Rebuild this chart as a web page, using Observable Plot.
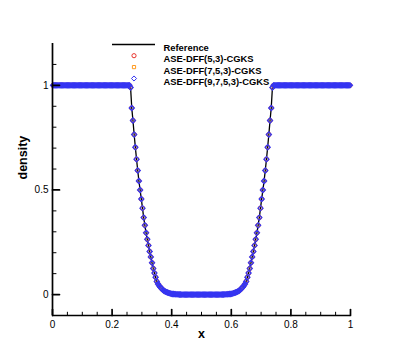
<!DOCTYPE html>
<html>
<head>
<meta charset="utf-8">
<script src="https://cdn.jsdelivr.net/npm/d3@7"></script>
<script src="https://cdn.jsdelivr.net/npm/@observablehq/plot@0.6"></script>
<style>
  html, body { margin: 0; padding: 0; background: #fff; }
  #chart svg { display: block; }
</style>
</head>
<body>
<div id="chart"></div>
<script>
// ---- data ----
const xGrid = [
  0.002,0.006,0.010,0.014,0.018,0.022,0.026,0.030,0.034,0.038,
  0.042,0.046,0.050,0.054,0.058,0.062,0.066,0.070,0.074,0.078,
  0.082,0.086,0.090,0.094,0.098,0.102,0.106,0.110,0.114,0.118,
  0.122,0.126,0.130,0.134,0.138,0.142,0.146,0.150,0.154,0.158,
  0.162,0.166,0.170,0.174,0.178,0.182,0.186,0.190,0.194,0.198,
  0.202,0.206,0.210,0.214,0.218,0.222,0.226,0.230,0.234,0.238,
  0.242,0.246,0.250,0.254,0.258,0.262,0.266,0.270,0.274,0.278,
  0.282,0.286,0.290,0.294,0.298,0.302,0.306,0.310,0.314,0.318,
  0.322,0.326,0.330,0.334,0.338,0.342,0.346,0.350,0.354,0.358,
  0.362,0.366,0.370,0.374,0.378,0.382,0.386,0.390,0.394,0.398,
  0.402,0.406,0.410,0.414,0.418,0.422,0.426,0.430,0.434,0.438,
  0.442,0.446,0.450,0.454,0.458,0.462,0.466,0.470,0.474,0.478,
  0.482,0.486,0.490,0.494,0.498,0.502,0.506,0.510,0.514,0.518,
  0.522,0.526,0.530,0.534,0.538,0.542,0.546,0.550,0.554,0.558,
  0.562,0.566,0.570,0.574,0.578,0.582,0.586,0.590,0.594,0.598,
  0.602,0.606,0.610,0.614,0.618,0.622,0.626,0.630,0.634,0.638,
  0.642,0.646,0.650,0.654,0.658,0.662,0.666,0.670,0.674,0.678,
  0.682,0.686,0.690,0.694,0.698,0.702,0.706,0.710,0.714,0.718,
  0.722,0.726,0.730,0.734,0.738,0.742,0.746,0.750,0.754,0.758,
  0.762,0.766,0.770,0.774,0.778,0.782,0.786,0.790,0.794,0.798,
  0.802,0.806,0.810,0.814,0.818,0.822,0.826,0.830,0.834,0.838,
  0.842,0.846,0.850,0.854,0.858,0.862,0.866,0.870,0.874,0.878,
  0.882,0.886,0.890,0.894,0.898,0.902,0.906,0.910,0.914,0.918,
  0.922,0.926,0.930,0.934,0.938,0.942,0.946,0.950,0.954,0.958,
  0.962,0.966,0.970,0.974,0.978,0.982,0.986,0.990,0.994,0.998
];
const density = [
  1,1,1,1,1,1,1,1,1,1,
  1,1,1,1,1,1,1,1,1,1,
  1,1,1,1,1,1,1,1,1,1,
  1,1,1,1,1,1,1,1,1,1,
  1,1,1,1,1,1,1,1,1,1,
  1,1,1,1,1,1,1,1,1,1,
  1,1,1,1,1,0.99,0.892,0.832,0.765,0.704,
  0.647,0.593,0.543,0.500,0.457,0.413,0.368,0.331,0.295,0.264,
  0.235,0.206,0.180,0.152,0.125,0.103,0.083,0.063,0.051,0.042,
  0.035,0.029,0.023,0.018,0.015,0.012,0.010,0.008,0.006,0.004,
  0.003,0.0025,0.002,0.0015,0.001,0.0007,0.0004,0.0002,0,0,
  0,0,0,0,0,0,0,0,0,0,
  0,0,0,0,0,0,0,0,0,0,
  0,0,0,0,0,0,0,0,0,0,
  0,0,0.0002,0.0004,0.0007,0.001,0.0015,0.002,0.0025,0.003,
  0.004,0.006,0.008,0.010,0.012,0.015,0.018,0.023,0.029,0.035,
  0.042,0.051,0.063,0.083,0.103,0.125,0.152,0.180,0.206,0.235,
  0.264,0.295,0.331,0.368,0.413,0.457,0.500,0.543,0.593,0.647,
  0.704,0.765,0.832,0.892,0.99,1,1,1,1,1,
  1,1,1,1,1,1,1,1,1,1,
  1,1,1,1,1,1,1,1,1,1,
  1,1,1,1,1,1,1,1,1,1,
  1,1,1,1,1,1,1,1,1,1,
  1,1,1,1,1,1,1,1,1,1,
  1,1,1,1,1,1,1,1,1,1
];
const seriesNames = ["Reference", "ASE-DFF(5,3)-CGKS", "ASE-DFF(7,5,3)-CGKS", "ASE-DFF(9,7,5,3)-CGKS"];
const xTicks = [0, 0.2, 0.4, 0.6, 0.8, 1];
const xMinorTicks = [0.05,0.1,0.15,0.25,0.3,0.35,0.45,0.5,0.55,0.65,0.7,0.75,0.85,0.9,0.95];
const yTicks = [0, 0.5, 1];
const yMinorTicks = [0.1,0.2,0.3,0.4,0.6,0.7,0.8,0.9,1.1];
const xLabel = "x";
const yLabel = "density";

// ---- styles ----
const colors = ["#000000", "#e8332c", "#ff9a1f", "#3535f2"];
const symbols = [null, "circle", "square", "diamond2"];
const radii = [0, 2.1, 1.8, 2.3];
const widths = [1.3, 1, 1, 1.25];

const rows = xGrid.map((x, i) => ({x, v: density[i]}));

const tickShape = { draw(context, l) { context.moveTo(0, 0); context.lineTo(0, -l); } };
const font = "'Liberation Sans', Arial, Helvetica, sans-serif";

const marks = [
  // data
  Plot.line(rows, {x: "x", y: "v", stroke: colors[0], strokeWidth: widths[0]}),
  Plot.dot(rows, {x: "x", y: "v", symbol: symbols[1], r: radii[1], stroke: colors[1], fill: "none", strokeWidth: widths[1]}),
  Plot.dot(rows, {x: "x", y: "v", symbol: symbols[2], r: radii[2], stroke: colors[2], fill: "none", strokeWidth: widths[2]}),
  Plot.dot(rows, {x: "x", y: "v", symbol: symbols[3], r: radii[3], stroke: colors[3], fill: "none", strokeWidth: widths[3]}),
  // axis lines
  Plot.ruleX([0], {stroke: "black", strokeWidth: 1.7}),
  Plot.ruleY([-0.1], {stroke: "black", strokeWidth: 1.7}),
  // inward ticks
  Plot.vector(xTicks, {x: d => d, frameAnchor: "bottom", rotate: 0, length: 6, anchor: "start", shape: tickShape, stroke: "black", strokeWidth: 1.7}),
  Plot.vector(xMinorTicks, {x: d => d, frameAnchor: "bottom", rotate: 0, length: 3.3, anchor: "start", shape: tickShape, stroke: "black", strokeWidth: 1}),
  Plot.vector(yTicks, {y: d => d, frameAnchor: "left", rotate: 90, length: 7, anchor: "start", shape: tickShape, stroke: "black", strokeWidth: 1.7}),
  Plot.vector(yMinorTicks, {y: d => d, frameAnchor: "left", rotate: 90, length: 3.5, anchor: "start", shape: tickShape, stroke: "black", strokeWidth: 1}),
  // tick labels
  Plot.axisX(xTicks, {tickSize: 0, tickPadding: 5, fontSize: 10, tickFormat: d => String(d), label: null, fill: "black"}),
  Plot.axisY(yTicks, {tickSize: 0, tickPadding: 4, fontSize: 10, tickFormat: d => String(d), label: null, fill: "black"}),
  // axis titles
  Plot.text([xLabel], {frameAnchor: "bottom", dy: 22, fontWeight: "bold", fontSize: 12.5, fill: "black"}),
  Plot.text([yLabel], {frameAnchor: "left", dx: -30, rotate: -90, fontWeight: "bold", fontSize: 12.5, fill: "black"}),
  // legend
  Plot.ruleY([1.2], {dy: 1, insetLeft: 60, insetRight: 195, stroke: colors[0], strokeWidth: 1.5})
];
seriesNames.forEach((name, i) => {
  const dy = 0.8 + i * 11.4;
  if (i > 0) {
    marks.push(Plot.dot([name], {frameAnchor: "top-left", dx: 81.5, dy, symbol: symbols[i], r: radii[i], stroke: colors[i], fill: "none", strokeWidth: 1}));
  }
  marks.push(Plot.text([name], {frameAnchor: "top-left", dx: 111, dy, textAnchor: "start", fontWeight: "bold", fontSize: 9.4, fill: "black"}));
});

const chart = Plot.plot({
  width: 399,
  height: 355,
  marginTop: 43,
  marginRight: 49,
  marginBottom: 40,
  marginLeft: 52,
  x: {domain: [0, 1]},
  y: {domain: [-0.1, 1.2]},
  style: {background: "white", fontFamily: font, overflow: "visible", color: "black"},
  marks
});
document.getElementById("chart").appendChild(chart);
</script>
</body>
</html>
